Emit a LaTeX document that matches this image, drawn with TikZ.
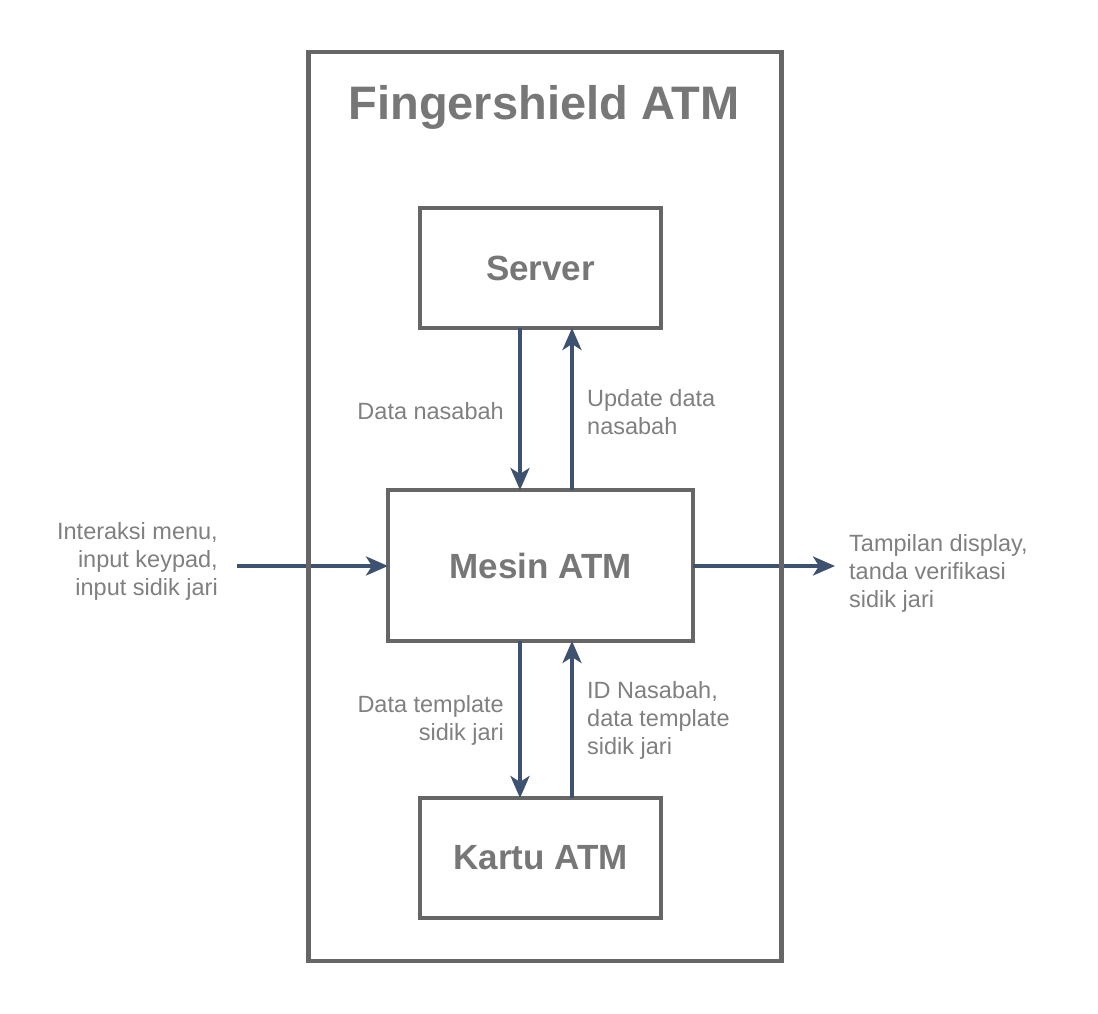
\documentclass[tikz,border=0pt]{standalone}
\usepackage{fontspec}
\setmainfont{Liberation Sans}
\usetikzlibrary{arrows.meta,calc}
\definecolor{boxline}{HTML}{666666}
\definecolor{boxtext}{HTML}{777777}
\definecolor{labtext}{HTML}{808080}
\definecolor{arrcol}{HTML}{3D5170}
\tikzset{
  blockbox/.style={draw=boxline, line width=4.5pt, fill=white, inner sep=0pt, outer sep=0pt,
    text=boxtext, font=\fontsize{35}{42}\selectfont\bfseries},
  flowarrow/.style={draw=arrcol, line width=3.5pt, -{Stealth[length=22pt,width=19pt,inset=6pt]}},
  lab/.style={text=labtext, font=\fontsize{23.5}{28}\selectfont, inner sep=0pt, align=left},
  labr/.style={lab, align=right},
}
\begin{document}
\begin{tikzpicture}[x=1pt,y=-1pt]
\useasboundingbox (0,0) rectangle (1098,1014);
\fill[white] (0,0) rectangle (1098,1014);
\node[blockbox, minimum width=241pt, minimum height=120pt] (server) at (540.5,268) {Server};
\node[blockbox, minimum width=305pt, minimum height=151pt] (mesin) at (540.5,565.5) {Mesin ATM};
\node[blockbox, minimum width=241pt, minimum height=120pt] (kartu) at (540.5,858) {Kartu ATM};
\coordinate (xa) at (520,0);
\coordinate (xb) at (572,0);
\coordinate (inL) at (237,566);
\coordinate (outR) at (835,566);
\draw[flowarrow] (server.south -| xa) -- (mesin.north -| xa);
\draw[flowarrow] (mesin.north -| xb) -- (server.south -| xb);
\draw[flowarrow] (mesin.south -| xa) -- (kartu.north -| xa);
\draw[flowarrow] (kartu.north -| xb) -- (mesin.south -| xb);
\draw[flowarrow] (inL) -- (mesin.west |- inL);
\draw[flowarrow] (mesin.east |- outR) -- (outR);
\node[draw=boxline, line width=4.5pt, minimum width=473pt, minimum height=909pt, inner sep=0pt] (outer) at (545,506.5) {};
\node[text=boxtext, font=\fontsize{47}{56}\selectfont\bfseries] (title) at (544,107) {Fingershield ATM};
\node[labr, anchor=east] (l1) at (504,411) {Data nasabah};
\node[lab, anchor=west] (l2) at (587,412) {Update data\\nasabah};
\node[labr, anchor=east] (l3) at (218,561) {Interaksi menu,\\input keypad,\\input sidik jari};
\node[lab, anchor=west] (l4) at (849,573) {Tampilan display,\\tanda verifikasi\\sidik jari};
\node[labr, anchor=east] (l5) at (504,720) {Data template\\sidik jari};
\node[lab, anchor=west] (l6) at (587,720) {ID Nasabah,\\data template\\sidik jari};
\end{tikzpicture}
\end{document}
